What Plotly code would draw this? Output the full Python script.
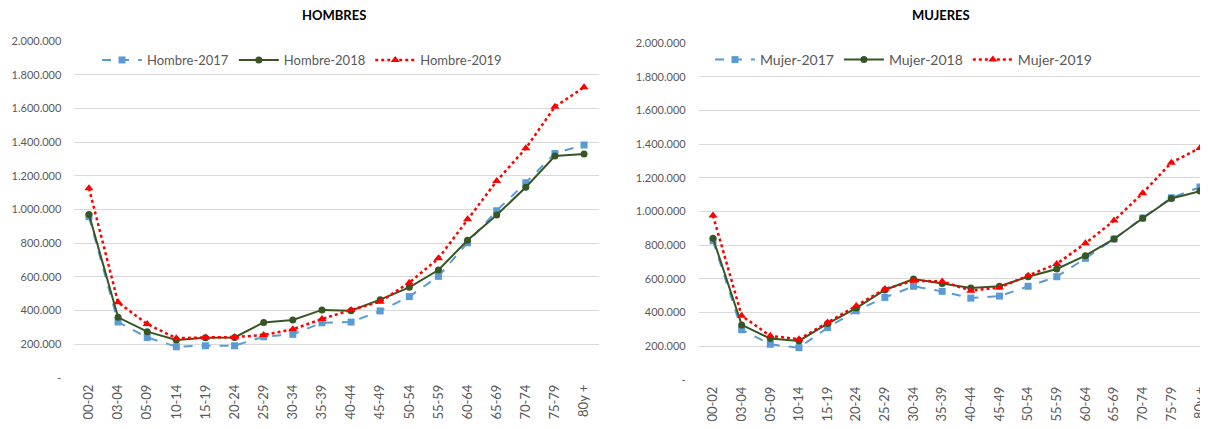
import plotly.graph_objects as go

ages = ['00-02', '03-04', '05-09', '10-14', '15-19', '20-24', '25-29', '30-34', '35-39',
        '40-44', '45-49', '50-54', '55-59', '60-64', '65-69', '70-74', '75-79', '80y +']

hombre_2017 = [957000, 332000, 241000, 186000, 192000, 192000, 245000, 259000, 328000,
               332000, 398000, 483000, 603000, 803000, 993000, 1159000, 1333000, 1383000]
hombre_2018 = [971000, 360000, 275000, 226000, 239000, 241000, 330000, 344000, 404000,
               399000, 465000, 538000, 641000, 817000, 967000, 1132000, 1317000, 1329000]
hombre_2019 = [1126000, 449000, 320000, 236000, 241000, 243000, 255000, 289000, 350000,
               404000, 453000, 566000, 710000, 942000, 1169000, 1363000, 1610000, 1725000]

mujer_2017 = [826000, 298000, 212000, 192000, 311000, 411000, 490000, 556000, 526000,
              486000, 498000, 556000, 613000, 722000, 837000, 962000, 1081000, 1145000]
mujer_2018 = [841000, 327000, 246000, 232000, 335000, 427000, 534000, 599000, 573000,
              546000, 556000, 613000, 659000, 738000, 837000, 960000, 1077000, 1121000]
mujer_2019 = [976000, 381000, 262000, 242000, 341000, 439000, 540000, 589000, 585000,
              530000, 549000, 619000, 689000, 811000, 946000, 1109000, 1290000, 1377000]

y_ticks = [0, 200000, 400000, 600000, 800000, 1000000, 1200000, 1400000, 1600000, 1800000, 2000000]
y_tick_text = ['-', '200.000', '400.000', '600.000', '800.000', '1.000.000', '1.200.000',
               '1.400.000', '1.600.000', '1.800.000', '2.000.000']

BLUE = '#5B9BD5'
GREEN = '#375623'
RED = '#FF0000'
GRAY = '#595959'
FONT = 'Lato, Carlito, Calibri, sans-serif'

# the page body adds an 8px margin, so the figure is 8px smaller than the window
W, H = 1200, 421

fig = go.Figure()

series = [
    ('x', 'y', 'legend', 'Hombre', [hombre_2017, hombre_2018, hombre_2019]),
    ('x2', 'y2', 'legend2', 'Mujer', [mujer_2017, mujer_2018, mujer_2019]),
]
styles = [
    ('2017', dict(color=BLUE, width=2, dash='dash'), dict(symbol='square', size=7, color=BLUE)),
    ('2018', dict(color=GREEN, width=2, dash='solid'), dict(symbol='circle', size=7, color=GREEN)),
    ('2019', dict(color=RED, width=2.5, dash='dot'), dict(symbol='triangle-up', size=8, color=RED)),
]

for xa, ya, leg, prefix, values in series:
    for (year, line, marker), vals in zip(styles, values):
        fig.add_trace(go.Scatter(
            x=ages, y=vals, xaxis=xa, yaxis=ya, legend=leg,
            name=f'{prefix}-{year}', mode='lines+markers',
            line=line, marker=marker,
        ))

axis_common = dict(
    type='category', showgrid=False, showline=False, ticks='', automargin=False,
    tickangle=-90, tickfont=dict(size=13, color=GRAY, family=FONT), ticklabelstandoff=3,
)
yaxis_common = dict(
    range=[0, 2000000], tickvals=y_ticks, ticktext=y_tick_text, automargin=False,
    showgrid=True, gridcolor='#D9D9D9', gridwidth=1, zeroline=False,
    tickfont=dict(size=11, color=GRAY, family=FONT), ticklabelstandoff=12,
)
legend_common = dict(
    orientation='h', yanchor='middle', xanchor='left', y=1 - 52 / H,
    bgcolor='rgba(0,0,0,0)', itemwidth=40, tracegroupgap=0,
)

fig.update_layout(
    width=W, height=H,
    margin=dict(l=0, r=0, t=0, b=0),
    plot_bgcolor='white', paper_bgcolor='white',
    font=dict(family=FONT, color=GRAY),
    xaxis=dict(domain=[66.4 / W, 590.6 / W], anchor='y', range=[-0.5, 17.5], **axis_common),
    xaxis2=dict(domain=[690.7 / W, 1.0], anchor='y2', range=[-0.5, 17.28], **axis_common),
    yaxis=dict(domain=[1 - 370 / H, 1 - 33 / H], anchor='x', **yaxis_common),
    yaxis2=dict(domain=[1 - 372 / H, 1 - 35 / H], anchor='x2', **yaxis_common),
    legend=dict(x=89 / W, font=dict(size=13, color=GRAY, family=FONT), **legend_common),
    legend2=dict(x=702 / W, font=dict(size=14, color=GRAY, family=FONT), **legend_common),
    annotations=[
        dict(text='<b>HOMBRES</b>', x=326 / W, y=1 - 7 / H, xref='paper', yref='paper',
             xanchor='center', yanchor='middle', showarrow=False,
             font=dict(size=13, color='black', family=FONT)),
        dict(text='<b>MUJERES</b>', x=933 / W, y=1 - 7 / H, xref='paper', yref='paper',
             xanchor='center', yanchor='middle', showarrow=False,
             font=dict(size=13, color='black', family=FONT)),
    ],
)

fig.write_html('out.html')
